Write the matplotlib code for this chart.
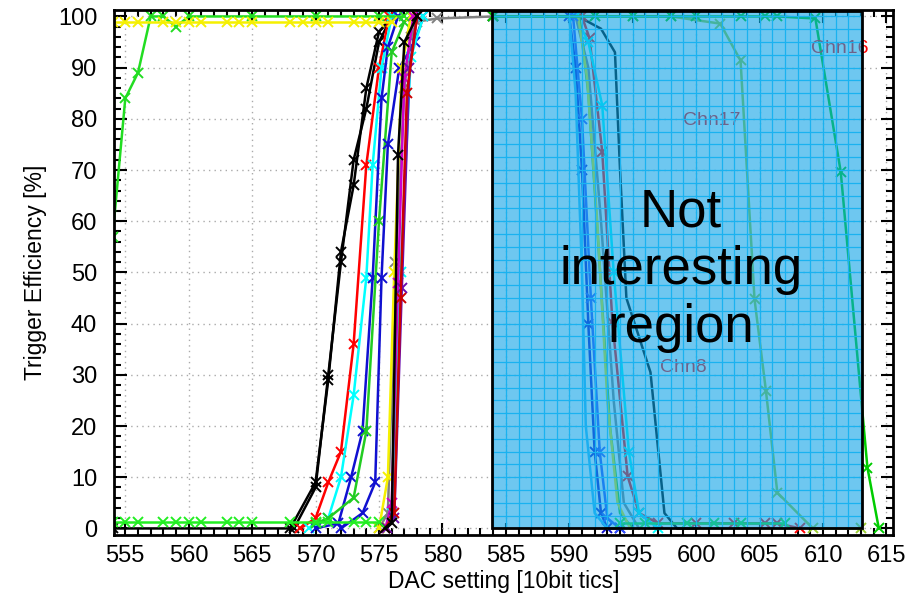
import matplotlib
matplotlib.use("Agg")
import matplotlib.pyplot as plt
from matplotlib.patches import Rectangle
from matplotlib.ticker import MultipleLocator
import numpy as np

plt.rcParams["font.family"] = ["Liberation Sans", "DejaVu Sans"]

# --- rising S-curves (interesting region) ---
black1_x = [554, 568, 570, 571, 572, 573, 574, 575, 576]
black1_y = [0, 0, 9, 29, 54, 67, 86, 97, 100]
black2_x = [568.3, 570, 571, 572, 573, 574, 575, 576]
black2_y = [0, 8, 30, 52, 72, 82, 95, 100]
red_x = [568.8, 570, 571, 572, 573, 574, 575, 575.8]
red_y = [0, 2, 9, 15, 36, 71, 90, 100]
cyan_x = [569.5, 571, 572, 573, 574, 574.5, 575.2, 576]
cyan_y = [0, 2, 10, 26, 49, 71, 90, 100]
blue1_x = [570, 571.8, 572.8, 573.7, 574.5, 575.2, 575.7, 576.5]
blue1_y = [0, 1, 10, 19, 49, 84, 94, 100]
green_mid_x = [570, 571, 573, 574, 575, 576, 577, 577.5]
green_mid_y = [1, 2, 6, 19, 60, 93, 99, 100]
blue2_x = [572, 573.7, 574.7, 575.2, 575.7, 576.6, 577.8, 578.5]
blue2_y = [0, 3, 9, 49, 75, 90, 95, 100]
yellow_x = [575, 575.7, 576.2, 576.8, 577.5]
yellow_y = [0, 10, 50, 90, 100]
magenta_x = [575.5, 576, 576.5, 577, 577.7]
magenta_y = [0, 5, 48, 88, 100]
darkred_x = [575.5, 576.2, 576.7, 577.2, 578]
darkred_y = [0, 3, 45, 85, 100]
gray_x = [575, 575.7, 576.3, 577, 577.5, 578, 579.6, 584]
gray_y = [0, 3, 52, 86, 96, 99, 99.6, 100]
black3_x = [575.5, 576, 576.5, 577, 578]
black3_y = [0, 1, 73, 95, 100]
cyan2_x = [575.5, 576, 576.7, 577.5, 578.5]
cyan2_y = [0, 3, 50, 92, 100]
purple_x = [575.6, 576.2, 576.8, 577.4, 578]
purple_y = [0, 2, 47, 90, 100]

# flat baselines with markers
yellow_top_x = [554, 555, 556, 558, 559, 560, 561, 563, 564, 565, 568, 569, 570, 571, 573, 574, 575, 576]
yellow_top_y = [99] * len(yellow_top_x)
green_bot_x = [554, 555, 556, 558, 559, 560, 561, 563, 564, 565, 568, 570, 571, 573, 574, 575]
green_bot_y = [1.2] * len(green_bot_x)
green_left_x = [554, 555, 556, 557, 558, 559, 560, 565, 570, 575, 577]
green_left_y = [57, 84, 89, 100, 100, 98, 100, 100, 100, 100, 100]

# --- falling curves (not interesting region) ---
dark_r_x = [584, 590.7, 592.5, 593.6, 594, 594.5, 596.4, 597.5, 598.5, 600]
dark_r_y = [100, 100, 97.6, 93, 70, 45, 30.5, 3, 0, 0]
red_r_x = [584, 591, 591.6, 592.6, 593.4, 594.6, 595.5, 597, 600, 603, 605.4, 606.4, 608.2]
red_r_y = [100, 100, 95.7, 73.5, 40.3, 10.2, 3, 1, 1, 1, 1, 1, 0]
cyan_r_x = [584, 590.5, 591.5, 592.6, 593.5, 594.7, 595.5, 597]
cyan_r_y = [100, 100, 95, 82.6, 50, 14.9, 3, 0]
blue_r_x = [584, 590, 590.5, 591, 591.5, 592, 592.5, 593, 594]
blue_r_y = [100, 100, 90, 70, 40, 15, 3, 0, 0]
gray_r_x = [584, 590.5, 591.5, 592.5, 593.5, 594.3, 595.5]
gray_r_y = [100, 100, 90, 60, 25, 5, 0]
green_r_x = [584, 590.8, 591.5, 592.3, 593.2, 594, 595]
green_r_y = [100, 100, 85, 55, 20, 3, 0]
yellow_r_x = [584, 590.7, 591.4, 592.2, 593, 593.8, 594.8]
yellow_r_y = [100, 100, 88, 60, 25, 5, 0]
blue2_r_x = [584, 590.3, 591, 591.7, 592.4, 593, 594]
blue2_r_y = [100, 100, 80, 45, 15, 2, 0]
lblue_r_x = [584, 590, 590.5, 591, 591.3, 592, 593]
lblue_r_y = [100, 100, 85, 50, 20, 3, 0]
chn17_x = [584, 592, 595, 598, 601.9, 603.5, 604.6, 605.5, 606.4, 609.2, 613]
chn17_y = [100, 100, 100, 100, 98.6, 91.4, 44.8, 26.9, 7, 0, 0]
chn16_x = [584, 592, 595, 598, 600, 603.5, 605.4, 606.4, 609.4, 611.4, 613.5, 614.4]
chn16_y = [100, 100, 100, 100, 100, 100, 100, 100, 99.6, 69.6, 11.9, 0]
green_bot_r_x = [594, 596, 599.3, 601.4, 603.5, 607]
green_bot_r_y = [1, 1, 1, 1, 1, 1]

# channel labels: (text, x, y)
chn_labels = [("Chn16", 611.3, 93.7), ("Chn17", 601.2, 79.6), ("Chn8", 599.0, 31.5)]

region_x0, region_x1 = 583.9, 613.1
region_y0, region_y1 = 0, 101

series = [
    (black1_x, black1_y, "black", "x"),
    (black2_x, black2_y, "black", "x"),
    (red_x, red_y, "red", "x"),
    (cyan_x, cyan_y, "cyan", "x"),
    (blue1_x, blue1_y, "#1010d0", "x"),
    (green_mid_x, green_mid_y, "#22cc22", "x"),
    (blue2_x, blue2_y, "#1010d0", "x"),
    (gray_x, gray_y, "gray", "x"),
    (cyan2_x, cyan2_y, "cyan", "x"),
    (yellow_x, yellow_y, "#f5f000", "x"),
    (magenta_x, magenta_y, "#cc00cc", "x"),
    (purple_x, purple_y, "#6a0dad", "x"),
    (darkred_x, darkred_y, "#cc0000", "x"),
    (black3_x, black3_y, "black", "x"),
    (green_bot_x, green_bot_y, "#22ee22", "x"),
    (green_left_x, green_left_y, "#22dd22", "x"),
    (yellow_top_x, yellow_top_y, "#f5f000", "x"),
    (dark_r_x, dark_r_y, "black", None),
    (red_r_x, red_r_y, "red", "x"),
    (cyan_r_x, cyan_r_y, "cyan", "x"),
    (blue_r_x, blue_r_y, "#1010d0", "x"),
    (gray_r_x, gray_r_y, "gray", None),
    (green_r_x, green_r_y, "#22cc22", None),
    (yellow_r_x, yellow_r_y, "#f5f000", None),
    (blue2_r_x, blue2_r_y, "#3050ff", "x"),
    (lblue_r_x, lblue_r_y, "#30c0ff", None),
    (chn17_x, chn17_y, "yellowgreen", "x"),
    (chn16_x, chn16_y, "#00cc00", "x"),
    (green_bot_r_x, green_bot_r_y, "#22ee22", "x"),
]

fig = plt.figure(figsize=(9.11, 6.06), dpi=100)
ax = fig.add_axes([0.125, 0.117, 0.855, 0.866])

for xs, ys, col, mk in series:
    ax.plot(xs, ys, color=col, lw=1.8, marker=mk, ms=7, mew=1.4, zorder=2)

for txt, tx, ty in chn_labels:
    ax.text(tx, ty, txt, color="red", fontsize=14, ha="center", va="center", zorder=2)

# not-interesting overlay with its own fine grid
ax.add_patch(Rectangle((region_x0, region_y0), region_x1 - region_x0, region_y1 - region_y0,
                       facecolor="#0da3e6", alpha=0.6, edgecolor="none", zorder=3))
ax.vlines(np.arange(584, region_x1, 1.0), region_y0, region_y1, color="#1ab2f0", lw=0.9, zorder=4)
ax.hlines(np.arange(2.5, region_y1, 2.5), region_x0, region_x1, color="#1ab2f0", lw=0.9, zorder=4)
ax.add_patch(Rectangle((region_x0, region_y0), region_x1 - region_x0, region_y1 - region_y0,
                       facecolor="none", edgecolor="black", lw=2, zorder=5))
ax.text((region_x0 + region_x1) / 2 + 0.3, 50.5, "Not\ninteresting\nregion", fontsize=38,
        ha="center", va="center", linespacing=1.2, zorder=6)

ax.set_xlim(554.1, 615.5)
ax.set_ylim(-1.3, 101.2)
ax.xaxis.set_major_locator(MultipleLocator(5))
ax.xaxis.set_minor_locator(MultipleLocator(1))
ax.yaxis.set_major_locator(MultipleLocator(10))
ax.yaxis.set_minor_locator(MultipleLocator(2))
ax.tick_params(which="both", direction="in", top=True, right=True, width=1.5, colors="black")
ax.tick_params(which="major", length=9)
ax.tick_params(which="minor", length=5)
ax.tick_params(axis="x", labelsize=17, pad=7)
ax.tick_params(axis="y", labelsize=17, pad=12)
ax.grid(True, which="major", color="#aaaaaa", linestyle=(0, (1, 3)), lw=1)
for s in ax.spines.values():
    s.set_linewidth(2)
    s.set_zorder(7)

ax.set_xlabel("DAC setting [10bit tics]", fontsize=16.5, labelpad=2)
ax.set_ylabel("Trigger Efficiency [%]", fontsize=16.5, labelpad=8)

fig.savefig("out.png", dpi=100)
